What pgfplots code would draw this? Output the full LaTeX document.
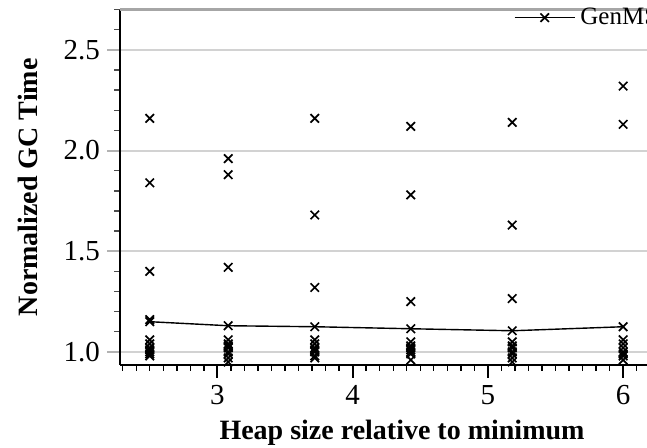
\documentclass[border=0pt]{standalone}
\usepackage{fontspec}
\setmainfont{Liberation Serif}
\usepackage{pgfplots}
\pgfplotsset{compat=1.18}
\pgfplotstableread{
x y
2.5 2.16
2.5 1.84
2.5 1.40
2.5 1.16
2.5 1.06
2.5 1.04
2.5 1.02
2.5 1.01
2.5 1.00
2.5 0.99
2.5 0.98
3.08 1.96
3.08 1.88
3.08 1.42
3.08 1.06
3.08 1.04
3.08 1.03
3.08 1.02
3.08 1.00
3.08 0.99
3.08 0.97
3.08 0.95
3.72 2.16
3.72 1.68
3.72 1.32
3.72 1.06
3.72 1.04
3.72 1.02
3.72 1.01
3.72 1.00
3.72 0.98
3.72 0.97
4.43 2.12
4.43 1.78
4.43 1.25
4.43 1.05
4.43 1.03
4.43 1.02
4.43 1.01
4.43 1.00
4.43 0.99
4.43 0.96
5.18 2.14
5.18 1.63
5.18 1.265
5.18 1.05
5.18 1.03
5.18 1.02
5.18 1.00
5.18 0.99
5.18 0.97
5.18 0.95
6.0 2.32
6.0 2.13
6.0 1.06
6.0 1.04
6.0 1.02
6.0 1.00
6.0 0.99
6.0 0.98
6.0 0.96
}\bench
\begin{document}
\begin{tikzpicture}
\clip (-60pt,-41.5pt) rectangle (263.5pt,182.5pt);
\begin{axis}[
  scale only axis,
  width=282pt, height=177.7pt,
  xmin=2.28, xmax=6.45, ymin=0.935, ymax=2.7,
  axis lines*=left,
  axis line style={black, line width=1pt},
  clip=false,
  xtick={3,4,5,6},
  ytick={1,1.5,2,2.5},
  minor xtick={2.3,2.4,...,6.41},
  minor ytick={1.1,1.2,...,2.71},
  tick align=outside,
  major tick length=6.5pt,
  minor tick length=3pt,
  major x tick style={black, line width=0.9pt},
  minor x tick style={black, line width=0.7pt},
  major y tick style={gray!60, line width=1pt},
  minor y tick style={black!70, line width=0.7pt},
  ymajorgrids,
  major grid style={gray!35, line width=1pt},
  tick label style={font=\fontsize{14.5}{16}\selectfont, /pgf/number format/assume math mode=true},
  yticklabel style={/pgf/number format/.cd, fixed, fixed zerofill, precision=1},
  xlabel={Heap size relative to minimum},
  ylabel={Normalized GC Time},
  every axis x label/.style={at={(axis description cs:0.5,-0.19)}, anchor=center, font=\fontsize{14}{16}\selectfont\bfseries},
  every axis y label/.style={at={(axis description cs:-0.163,0.5)}, rotate=90, anchor=center, font=\fontsize{14}{16}\selectfont\bfseries},
  legend style={draw=none, fill=none, inner sep=0pt, at={(axis cs:5.19,2.66)}, anchor=west,
    font=\fontsize{12.5}{14}\selectfont, nodes={inner sep=2.5pt}},
  legend image code/.code={\draw[mark repeat=2,mark phase=2,#1] plot coordinates {(0pt,0pt)(15pt,0pt)(30pt,0pt)};},
]
\draw[gray!70, line width=1.2pt] (rel axis cs:0,1) -- (rel axis cs:1,1);
\addplot[only marks, mark=x, mark size=3pt, black, mark options={line width=0.85pt}, forget plot] table {\bench};
\addplot[black, line width=0.7pt, mark=x, mark size=3pt, mark options={line width=0.85pt}] coordinates {
(2.5,1.15) (3.08,1.13) (3.72,1.125) (4.43,1.115) (5.18,1.105) (6.0,1.125)};
\addlegendentry{GenMS}
\end{axis}
\end{tikzpicture}
\end{document}
